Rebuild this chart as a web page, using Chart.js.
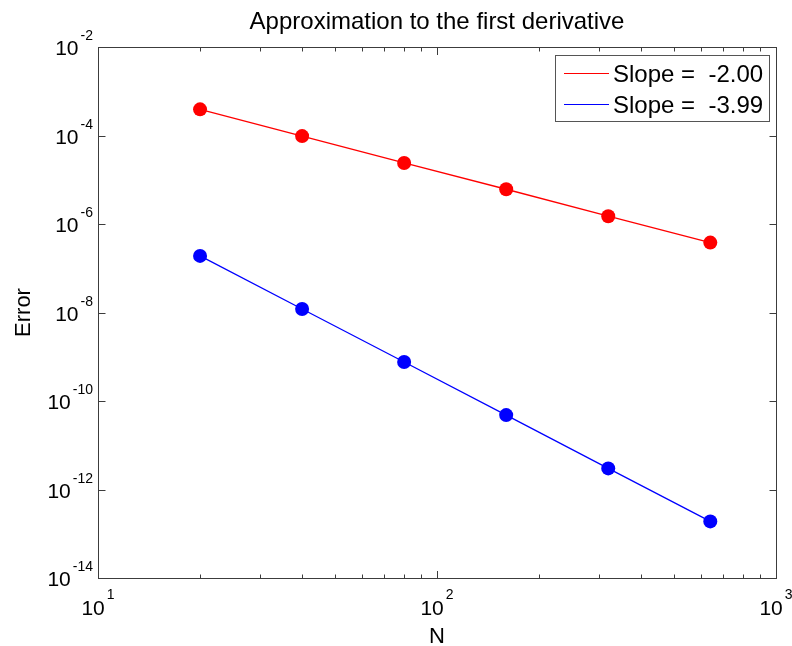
<!DOCTYPE html>
<html>
<head>
<meta charset="utf-8">
<script src="https://cdn.jsdelivr.net/npm/chart.js@4"></script>
<style>
    html, body { margin: 0; padding: 0; background: #ffffff; }
    #wrap { width: 792px; height: 646px; position: relative; }
</style>
</head>
<body>
<div id="wrap"><canvas id="errorChart"></canvas></div>
<script>
// Values
const gridN = [20, 40, 80, 160, 320, 640];
const errSecondOrder = [3.9e-4, 9.7e-5, 2.4e-5, 6.1e-6, 1.5e-6, 3.8e-7];
const errFourthOrder = [1.9e-7, 1.2e-8, 7.6e-10, 4.8e-11, 3.0e-12, 1.9e-13];
const seriesLabels = ['Slope =  -2.00', 'Slope =  -3.99'];
const seriesColors = ['#ff0000', '#0000ff'];

// Axis ticks (log scale)
const xMajorTicks = [10, 100, 1000];
const xMinorTicks = [20, 30, 40, 50, 60, 70, 80, 90, 200, 300, 400, 500, 600, 700, 800, 900];
const yMajorTicks = [1e-2, 1e-4, 1e-6, 1e-8, 1e-10, 1e-12, 1e-14];

const titleText = 'Approximation to the first derivative';
const xLabel = 'N';
const yLabel = 'Error';

const FONT = '"Liberation Sans", Arial, Helvetica, sans-serif';
const AXIS_COLOR = '#3c3c3c';

// draws "10" with a raised exponent, anchored at (x, baseline)
function drawPower(ctx, value, x, baseY, expY, align) {
    const exp = String(Math.round(Math.log10(value)));
    ctx.font = '21px ' + FONT;
    const baseW = ctx.measureText('10').width;
    ctx.font = '14px ' + FONT;
    const expW = ctx.measureText(exp).width;
    const total = baseW + 2 + expW;
    const left = align === 'right' ? x - total : x - total / 2;

    ctx.textAlign = 'left';
    ctx.textBaseline = 'alphabetic';
    ctx.font = '21px ' + FONT;
    ctx.fillText('10', left, baseY);
    ctx.font = '14px ' + FONT;
    ctx.fillText(exp, left + baseW + 2, expY);
}

// MATLAB-like box axes: inward ticks, power-of-ten labels, inset legend
const matlabAxes = {
    id: 'matlabAxes',
    afterDraw(chart) {
        const ctx = chart.ctx;
        const area = chart.chartArea;
        const xs = chart.scales.x;
        const ys = chart.scales.y;
        const L = area.left + 0.5, R = area.right + 0.5;
        const T = area.top + 0.5, B = area.bottom + 0.5;

        ctx.save();
        ctx.strokeStyle = AXIS_COLOR;
        ctx.lineWidth = 1;

        // frame
        ctx.strokeRect(L, T, R - L, B - T);

        // x ticks, bottom and top
        ctx.beginPath();
        xMajorTicks.forEach(v => {
            const px = Math.round(xs.getPixelForValue(v)) + 0.5;
            ctx.moveTo(px, B); ctx.lineTo(px, B - 7.5);
            ctx.moveTo(px, T); ctx.lineTo(px, T + 7.5);
        });
        xMinorTicks.forEach(v => {
            const px = Math.round(xs.getPixelForValue(v)) + 0.5;
            ctx.moveTo(px, B); ctx.lineTo(px, B - 4);
            ctx.moveTo(px, T); ctx.lineTo(px, T + 4);
        });
        // y ticks, left and right
        yMajorTicks.forEach(v => {
            const py = Math.round(ys.getPixelForValue(v)) + 0.5;
            ctx.moveTo(L, py); ctx.lineTo(L + 7, py);
            ctx.moveTo(R, py); ctx.lineTo(R - 7, py);
        });
        ctx.stroke();

        // tick labels
        ctx.fillStyle = '#000000';
        xMajorTicks.forEach(v => {
            const px = xs.getPixelForValue(v);
            drawPower(ctx, v, px, area.bottom + 36.5, area.bottom + 20.5, 'center');
        });
        yMajorTicks.forEach(v => {
            const py = ys.getPixelForValue(v);
            drawPower(ctx, v, area.left - 5, py + 8, py - 7, 'right');
        });

        // title and axis labels
        ctx.textAlign = 'center';
        ctx.textBaseline = 'alphabetic';
        ctx.font = '24px ' + FONT;
        ctx.fillText(titleText, (area.left + area.right) / 2, 29);

        ctx.font = '22px ' + FONT;
        ctx.fillText(xLabel, (area.left + area.right) / 2, 643);

        ctx.save();
        ctx.translate(30, (area.top + area.bottom) / 2);
        ctx.rotate(-Math.PI / 2);
        ctx.fillText(yLabel, 0, 0);
        ctx.restore();

        // legend box, top right inside the axes
        const box = { left: 555.5, top: 55.5, right: 769.5, bottom: 121.5 };
        ctx.fillStyle = '#ffffff';
        ctx.fillRect(box.left, box.top, box.right - box.left, box.bottom - box.top);
        ctx.strokeStyle = '#555555';
        ctx.strokeRect(box.left, box.top, box.right - box.left, box.bottom - box.top);

        const rowY = [73, 104];
        ctx.font = '24px ' + FONT;
        ctx.textAlign = 'left';
        chart.data.datasets.forEach((ds, i) => {
            ctx.strokeStyle = ds.borderColor;
            ctx.lineWidth = 1.2;
            ctx.beginPath();
            ctx.moveTo(564, rowY[i] + 0.5);
            ctx.lineTo(609, rowY[i] + 0.5);
            ctx.stroke();
            ctx.fillStyle = '#000000';
            ctx.fillText(ds.label, 613, rowY[i] + 9);
        });

        ctx.restore();
    }
};

function makeSeries(values, i) {
    return {
        label: seriesLabels[i],
        data: gridN.map((n, k) => ({ x: n, y: values[k] })),
        borderColor: seriesColors[i],
        backgroundColor: seriesColors[i],
        pointBackgroundColor: seriesColors[i],
        borderWidth: 1.3,
        pointRadius: 7,
        pointHoverRadius: 7,
        pointBorderWidth: 0,
        tension: 0,
        fill: false
    };
}

new Chart(document.getElementById('errorChart'), {
    type: 'line',
    data: {
        datasets: [makeSeries(errSecondOrder, 0), makeSeries(errFourthOrder, 1)]
    },
    options: {
        responsive: true,
        maintainAspectRatio: false,
        animation: false,
        events: [],
        layout: {
            padding: { left: 98, top: 47, right: 16, bottom: 68 }
        },
        plugins: {
            legend: { display: false },
            title: { display: false },
            tooltip: { enabled: false }
        },
        scales: {
            x: { type: 'logarithmic', min: 10, max: 1000, display: false },
            y: { type: 'logarithmic', min: 1e-14, max: 1e-2, display: false }
        }
    },
    plugins: [matlabAxes]
});
</script>
</body>
</html>
